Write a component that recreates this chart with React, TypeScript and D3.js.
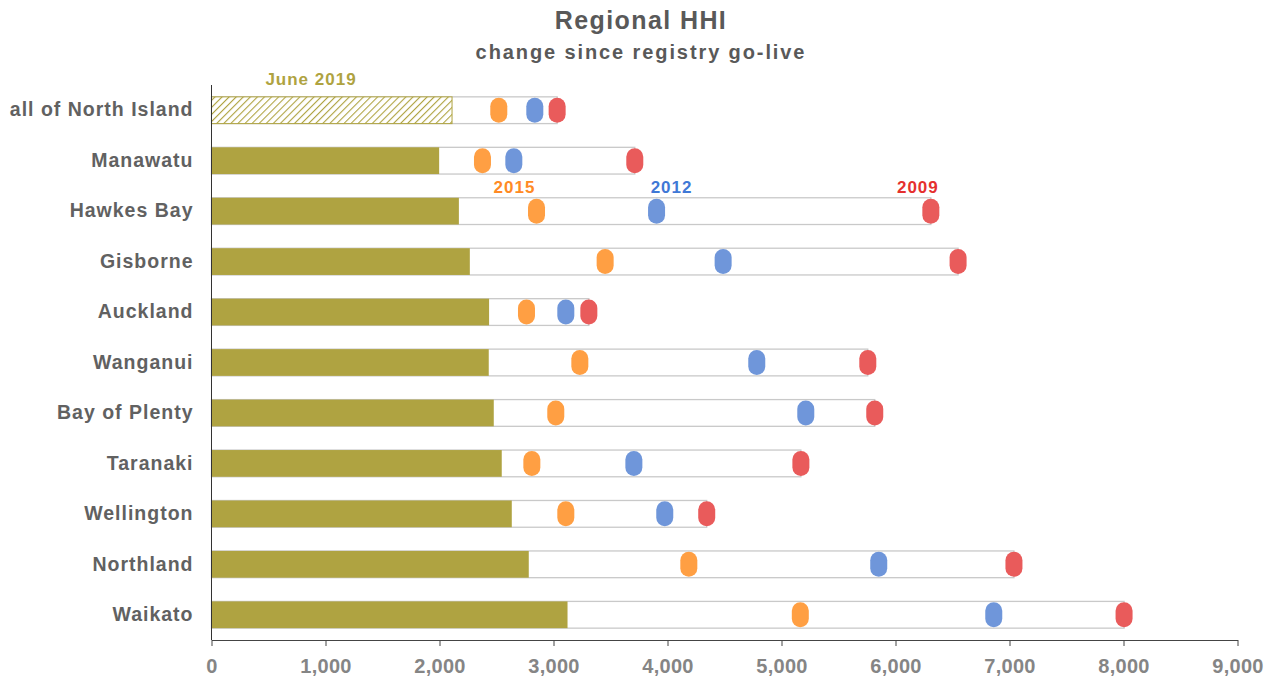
import React, { useEffect, useRef } from 'react';
import * as d3 from 'd3';

const regions = ['all of North Island', 'Manawatu', 'Hawkes Bay', 'Gisborne', 'Auckland', 'Wanganui',
  'Bay of Plenty', 'Taranaki', 'Wellington', 'Northland', 'Waikato'];
const hhi2019 = [2110, 1997, 2170, 2266, 2435, 2432, 2476, 2546, 2634, 2783, 3123];
const hhi2015 = [2520, 2377, 2851, 3453, 2763, 3231, 3020, 2810, 3108, 4187, 5165];
const hhi2012 = [2836, 2652, 3904, 4488, 3108, 4783, 5213, 3705, 3976, 5853, 6862];
const hhi2009 = [3032, 3713, 6310, 6549, 3310, 5757, 5818, 5170, 4344, 7039, 8005];
const xTicks = [0, 1000, 2000, 3000, 4000, 5000, 6000, 7000, 8000, 9000];

const OLIVE = '#AFA341';
const markerSeries = [
  { values: hhi2015, fill: '#FF9F43', label: '2015', labelColor: '#FF8A24', dx: -22 },
  { values: hhi2012, fill: '#6F96DA', label: '2012', labelColor: '#3F78D6', dx: 15 },
  { values: hhi2009, fill: '#E95B5B', label: '2009', labelColor: '#E5302E', dx: -13 },
];
const labelRow = 2;

const App: React.FC = () => {
  const ref = useRef<SVGSVGElement | null>(null);

  useEffect(() => {
    if (!ref.current) return;
    const width = 1271, height = 682;
    const margin = { top: 85, right: 34, bottom: 42, left: 211.5 };
    const font = 'Liberation Sans, Arial, sans-serif';

    const svg = d3.select(ref.current).attr('width', width).attr('height', height);
    svg.selectAll('*').remove();

    const x = d3.scaleLinear().domain([0, 9000]).range([margin.left, margin.left + 1026]);
    const y = d3.scaleBand().domain(regions).range([margin.top, height - margin.bottom]).paddingInner(0.47).paddingOuter(0.235);

    const defs = svg.append('defs');
    const pat = defs.append('pattern').attr('id', 'hatch').attr('patternUnits', 'userSpaceOnUse')
      .attr('width', 5).attr('height', 5).attr('patternTransform', 'rotate(45)');
    pat.append('rect').attr('width', 5).attr('height', 5).attr('fill', '#fff');
    pat.append('line').attr('x1', 0).attr('y1', 0).attr('x2', 0).attr('y2', 5)
      .attr('stroke', OLIVE).attr('stroke-width', 2.2);

    // title
    svg.append('text').attr('x', 641).attr('y', 29).attr('text-anchor', 'middle')
      .style('font-family', font).style('font-weight', 'bold').style('font-size', '25px')
      .style('letter-spacing', '1.4px').attr('fill', '#595959').text('Regional HHI');
    svg.append('text').attr('x', 641).attr('y', 59).attr('text-anchor', 'middle')
      .style('font-family', font).style('font-weight', 'bold').style('font-size', '20px')
      .style('letter-spacing', '1.9px').attr('fill', '#595959').text('change since registry go-live');

    const g = svg.append('g');

    // outer bars (to 2009 value)
    g.selectAll('rect.outer').data(regions).join('rect').attr('class', 'outer')
      .attr('x', x(0)).attr('y', d => y(d)!)
      .attr('width', (_, i) => x(hhi2009[i]) - x(0)).attr('height', y.bandwidth())
      .attr('fill', '#fff').attr('stroke', '#C9C9C9').attr('stroke-width', 1.3);

    // 2019 bars
    g.selectAll('rect.cur').data(regions).join('rect').attr('class', 'cur')
      .attr('x', x(0)).attr('y', d => y(d)!)
      .attr('width', (_, i) => x(hhi2019[i]) - x(0)).attr('height', y.bandwidth())
      .attr('fill', (_, i) => i === 0 ? 'url(#hatch)' : OLIVE)
      .attr('stroke', (_, i) => i === 0 ? OLIVE : 'none').attr('stroke-width', 1);

    // markers
    const mw = 17, mh = 25;
    markerSeries.forEach(s => {
      g.selectAll(null).data(regions).join('rect')
        .attr('x', (_, i) => x(s.values[i]) - mw / 2)
        .attr('y', d => y(d)! + y.bandwidth() / 2 - mh / 2)
        .attr('width', mw).attr('height', mh).attr('rx', 8.5).attr('ry', 8.5)
        .attr('fill', s.fill);
      g.append('text').attr('x', x(s.values[labelRow]) + s.dx)
        .attr('y', y(regions[labelRow])! - 5).attr('text-anchor', 'middle')
        .style('font-family', font).style('font-weight', 'bold').style('font-size', '17px')
        .style('letter-spacing', '1px').attr('fill', s.labelColor).text(s.label);
    });

    g.append('text').attr('x', x(873)).attr('y', y(regions[0])! - 12).attr('text-anchor', 'middle')
      .style('font-family', font).style('font-weight', 'bold').style('font-size', '17px')
      .style('letter-spacing', '1px').attr('fill', OLIVE).text('June 2019');

    // y axis
    const yAxis = svg.append('g').attr('transform', `translate(${x(0)},0)`)
      .call(d3.axisLeft(y).tickSize(0).tickPadding(18));
    yAxis.select('.domain').attr('stroke', '#333').attr('d', `M0,${margin.top}V${height - margin.bottom}`);
    yAxis.selectAll('text').style('font-family', font).style('font-weight', 'bold')
      .style('font-size', '19.5px').style('letter-spacing', '1px').attr('fill', '#616161');

    // x axis
    const xAxis = svg.append('g').attr('transform', `translate(0,${height - margin.bottom})`)
      .call(d3.axisBottom(x).tickValues(xTicks).tickSize(6).tickSizeOuter(0).tickPadding(13)
        .tickFormat(d => d3.format(',')(d as number)));
    xAxis.select('.domain').attr('stroke', '#444');
    xAxis.selectAll('line').attr('stroke', '#444');
    xAxis.selectAll('text').style('font-family', font).style('font-weight', 'bold')
      .style('font-size', '20px').style('letter-spacing', '0.3px').attr('fill', '#858585');
  }, []);

  return <svg ref={ref} style={{ position: 'absolute', left: 0, top: 0 }} />;
};

export default App;
